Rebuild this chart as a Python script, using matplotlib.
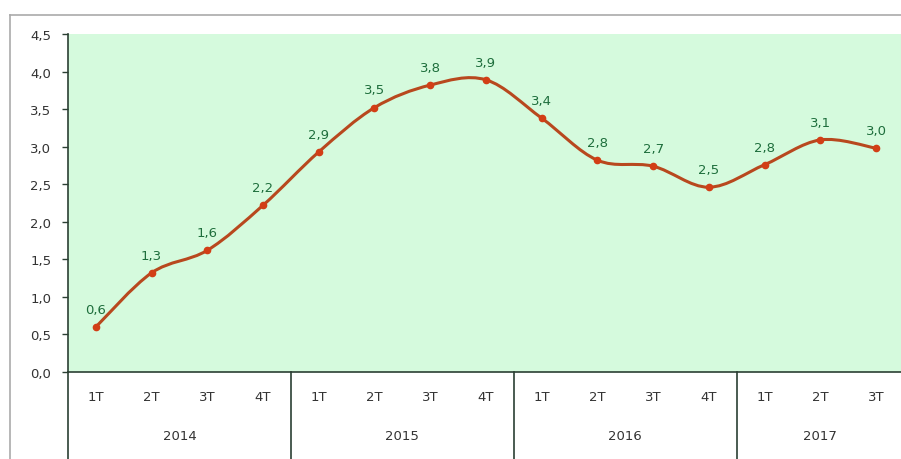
import matplotlib
matplotlib.use("Agg")
import matplotlib.pyplot as plt
from matplotlib.path import Path
from matplotlib.patches import PathPatch
from matplotlib.lines import Line2D
import matplotlib.transforms as mtransforms

# ---- data ----
quarters = ["1T", "2T", "3T", "4T", "1T", "2T", "3T", "4T",
            "1T", "2T", "3T", "4T", "1T", "2T", "3T"]
years = ["2014", "2015", "2016", "2017"]
year_counts = [4, 4, 4, 3]
values = [0.60, 1.32, 1.62, 2.22, 2.93, 3.52, 3.82, 3.89,
          3.38, 2.82, 2.74, 2.46, 2.76, 3.09, 2.98]
yticks = [0.0, 0.5, 1.0, 1.5, 2.0, 2.5, 3.0, 3.5, 4.0, 4.5]

W, H = 901, 460
fig = plt.figure(figsize=(W / 100, H / 100), dpi=100)
fig.patch.set_facecolor("white")

left, right, top, bottom = 68, 901, 35, 373
ax = fig.add_axes([left / W, (H - bottom) / H, (right - left) / W, (bottom - top) / H])
ax.set_facecolor("#D5FADD")

n = len(values)
step = (876 - 96) / (n - 1)
ax.set_xlim(-0.5, (n - 1) + (right - 876) / step)
ax.set_ylim(0, 4.5)

line_color = "#B8481E"
xs = list(range(n))

# smoothed line (Excel-like bezier smoothing)
verts = [(xs[0], values[0])]
codes = [Path.MOVETO]
for i in range(n - 1):
    p0 = (xs[max(i - 1, 0)], values[max(i - 1, 0)])
    p1 = (xs[i], values[i])
    p2 = (xs[i + 1], values[i + 1])
    p3 = (xs[min(i + 2, n - 1)], values[min(i + 2, n - 1)])
    c1 = (p1[0] + (p2[0] - p0[0]) / 6, p1[1] + (p2[1] - p0[1]) / 6)
    c2 = (p2[0] - (p3[0] - p1[0]) / 6, p2[1] - (p3[1] - p1[1]) / 6)
    verts += [c1, c2, p2]
    codes += [Path.CURVE4] * 3
ax.add_patch(PathPatch(Path(verts, codes), facecolor="none",
                       edgecolor=line_color, lw=2.2, zorder=3))
ax.plot(xs, values, linestyle="none", marker="o", ms=4.5,
        color="#D23E16", zorder=4)

fs = 9.5
label_color = "#1E6E3C"
for x, v in zip(xs, values):
    ax.annotate(f"{v:.1f}".replace(".", ","), (x, v), xytext=(0, 8),
                textcoords="offset points", ha="center", va="bottom",
                fontsize=fs, color=label_color, zorder=5)

# axes styling
for s in ["top", "right"]:
    ax.spines[s].set_visible(False)
axis_color = "#2B3F33"
ax.spines["left"].set_color(axis_color)
ax.spines["bottom"].set_color(axis_color)
ax.spines["left"].set_linewidth(1.2)
ax.spines["bottom"].set_linewidth(1.2)

ax.set_yticks(yticks)
ax.set_yticklabels([f"{t:.1f}".replace(".", ",") for t in yticks])
ax.tick_params(axis="y", direction="out", length=4, width=1,
               color=axis_color, labelsize=fs, labelcolor="#333333", pad=8)
ax.set_xticks(xs)
ax.set_xticklabels(quarters)
ax.tick_params(axis="x", length=0, labelsize=fs, labelcolor="#333333", pad=13)

# year labels and separators
trans = mtransforms.blended_transform_factory(ax.transData, ax.transAxes)
down = -(H - bottom) / (bottom - top)
start = 0
bounds = [-0.5]
for yr, cnt in zip(years, year_counts):
    center = start + (cnt - 1) / 2
    ax.text(center, -(437 - bottom) / (bottom - top), yr, transform=trans,
            ha="center", va="center", fontsize=fs, color="#333333")
    start += cnt
    if start < n:
        bounds.append(start - 0.5)
for b in bounds:
    ax.add_line(Line2D([b, b], [0, down], transform=trans, color=axis_color,
                       lw=1.2, clip_on=False))

# outer frame
fig.add_artist(Line2D([10 / W, 1], [1 - 16 / H, 1 - 16 / H],
                      transform=fig.transFigure, color="#AAAAAA", lw=1.2))
fig.add_artist(Line2D([10 / W, 10 / W], [0, 1 - 16 / H],
                      transform=fig.transFigure, color="#AAAAAA", lw=1.2))

fig.savefig("out.png", dpi=100, facecolor="white")
